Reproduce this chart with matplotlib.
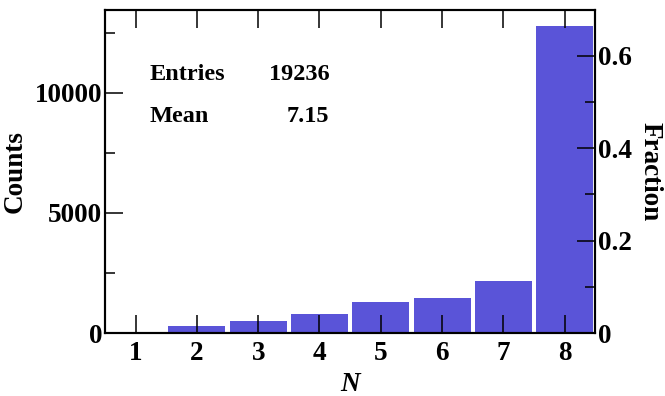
import matplotlib
matplotlib.use("Agg")
import matplotlib.pyplot as plt
from matplotlib.ticker import MultipleLocator

# Multiplicity histogram: counts per N
n_values = [1, 2, 3, 4, 5, 6, 7, 8]
counts = [16, 290, 490, 790, 1290, 1450, 2150, 12760]
entries = 19236
mean_n = 7.15

bar_color = "#5a54d8"
plt.rcParams["font.family"] = ["Liberation Serif", "DejaVu Serif"]
plt.rcParams["font.weight"] = "bold"

fig = plt.figure(figsize=(6.65, 3.96), dpi=100)
ax = fig.add_axes([0.158, 0.159, 0.737, 0.816])

ax.bar(n_values, counts, width=0.93, color=bar_color, linewidth=0)
ax.set_xlim(0.5, 8.5)
count_max = 13450
ax.set_ylim(0, count_max)

ax.xaxis.set_major_locator(MultipleLocator(1))
ax.yaxis.set_major_locator(MultipleLocator(5000))
ax.yaxis.set_minor_locator(MultipleLocator(2500))
ax.tick_params(axis="x", which="major", direction="in", length=13, width=1.1,
               top=True, labelsize=19.5, pad=6)
ax.tick_params(axis="y", which="major", direction="in", length=13, width=1.1,
               labelsize=19.5, pad=2)
ax.tick_params(axis="y", which="minor", direction="in", length=7, width=1.1)
for spine in ax.spines.values():
    spine.set_linewidth(1.5)

ax.set_xlabel("N", fontsize=19.5, fontstyle="italic", fontweight="bold", labelpad=4)
ax.set_ylabel("Counts", fontsize=19.5, fontweight="bold", labelpad=5)

# Right axis shows the same bars as a fraction of all entries
ax2 = ax.twinx()
ax2.set_ylim(0, count_max / entries)
ax2.yaxis.set_major_locator(MultipleLocator(0.2))
ax2.yaxis.set_minor_locator(MultipleLocator(0.1))
ax2.yaxis.set_major_formatter(lambda v, p: "0" if v == 0 else f"{v:.1f}")
ax2.tick_params(axis="y", which="major", direction="in", length=13, width=1.1,
                labelsize=19.5, pad=2)
ax2.tick_params(axis="y", which="minor", direction="in", length=7, width=1.1)
for spine in ax2.spines.values():
    spine.set_linewidth(1.5)
ax2.set_ylabel("Fraction", fontsize=19.5, fontweight="bold", rotation=270, labelpad=22)

# Statistics box
stat_kw = dict(transform=ax.transAxes, fontsize=17.5, fontweight="bold", va="baseline")
ax.text(0.09, 0.783, "Entries", ha="left", **stat_kw)
ax.text(0.458, 0.783, f"{entries}", ha="right", **stat_kw)
ax.text(0.09, 0.653, "Mean", ha="left", **stat_kw)
ax.text(0.458, 0.653, f"{mean_n:.2f}", ha="right", **stat_kw)

fig.savefig("out.png", dpi=100)
